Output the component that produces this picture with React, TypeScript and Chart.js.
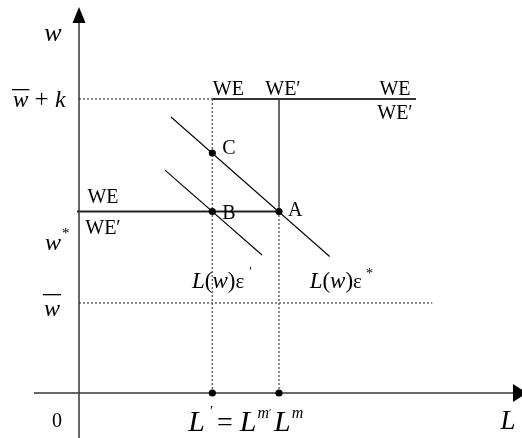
import React, { useEffect, useRef } from "react";
import { Chart, registerables } from "chart.js";

Chart.register(...registerables);

// Wage levels on the vertical axis
const wBar = 3.0;
const wStar = 6.05;
const wBarPlusK = 9.8;

// Employment levels on the horizontal axis
const lPrime = 20; // L′ = L^m′
const lM = 30; // L^m

// Labour demand schedules L(w)ε* and L(w)ε′, given by their end points
const demandStarL = [13.8, 37.6];
const demandStarW = [9.2, 4.55];
const demandPrimeL = [12.9, 27.45];
const demandPrimeW = [7.43, 4.6];

// Marked equilibria
const pointNames = ["A", "B", "C"];
const pointL = [lM, lPrime, lPrime];
const pointW = [wStar, wStar, 8.0];

// Reach of the wage-setting lines
const weTopEnd = 50.55;
const floorEnd = 53.0;
const weLowStart = -0.3;

// Axis extents
const xRange = [-11.85, 66.45];
const yRange = [-1.5, 13.1];
const xAxisFrom = -6.75;
const xAxisBase = 65.1;
const xAxisTip = 67.2;
const yAxisBase = 12.33;
const yAxisTip = 12.87;

const SERIF = '"Liberation Serif", "Times New Roman", serif';

type Pt = { x: number; y: number };
const seg = (ls: number[], ws: number[]): Pt[] => ls.map((l, i) => ({ x: l, y: ws[i] }));

type Part = { t: string; it?: boolean; size?: number; dy?: number; dx?: number; bar?: number };

function drawRich(ctx: CanvasRenderingContext2D, x: number, y: number, parts: Part[], base: number) {
  let cx = x;
  for (const p of parts) {
    cx += p.dx || 0;
    const size = p.size || base;
    ctx.font = `${p.it ? "italic " : ""}${size}px ${SERIF}`;
    ctx.fillText(p.t, cx, y + (p.dy || 0));
    const w = ctx.measureText(p.t).width;
    if (p.bar) ctx.fillRect(cx - 1, y - p.bar, w + 2, 1.3);
    cx += w;
  }
}

function text(ctx: CanvasRenderingContext2D, s: string, x: number, y: number, size: number, align: CanvasTextAlign = "left", italic = false) {
  ctx.font = `${italic ? "italic " : ""}${size}px ${SERIF}`;
  ctx.textAlign = align;
  ctx.fillText(s, x, y);
  ctx.textAlign = "left";
}

const overlay = {
  id: "overlay",
  afterDatasetsDraw(chart: any) {
    const ctx: CanvasRenderingContext2D = chart.ctx;
    const px = (v: number) => chart.scales.x.getPixelForValue(v);
    const py = (v: number) => chart.scales.y.getPixelForValue(v);
    const ox = px(0);
    const oy = py(0);
    ctx.save();
    ctx.fillStyle = "#000";

    // arrowheads
    const ty = py(yAxisTip);
    const by = py(yAxisBase);
    ctx.beginPath();
    ctx.moveTo(ox, ty);
    ctx.lineTo(ox - 6.5, by);
    ctx.lineTo(ox + 6.5, by);
    ctx.closePath();
    ctx.fill();
    const tx = px(xAxisTip);
    const bx = px(xAxisBase);
    ctx.beginPath();
    ctx.moveTo(tx, oy);
    ctx.lineTo(bx, oy - 9);
    ctx.lineTo(bx, oy + 9);
    ctx.closePath();
    ctx.fill();

    ctx.textBaseline = "alphabetic";

    // axis titles and origin
    text(ctx, "w", ox - 26, ty + 34, 26, "center", true);
    text(ctx, "0", ox - 22, oy + 34, 20, "center");
    text(ctx, "L", bx - 5, oy + 36, 27, "center", true);

    // wage levels
    drawRich(ctx, ox - 66, py(wBarPlusK) + 8, [
      { t: "w", it: true, bar: 18 },
      { t: " + ", size: 25 },
      { t: "k", it: true, size: 24 },
    ], 23);
    drawRich(ctx, ox - 34, py(wStar) + 38, [
      { t: "w", it: true },
      { t: "*", size: 15, dy: -12, dx: 1 },
    ], 24);
    drawRich(ctx, ox - 35, py(wBar) + 13, [{ t: "w", it: true, bar: 22 }], 24);

    // employment levels
    drawRich(ctx, px(lPrime) - 24, oy + 38, [
      { t: "L", it: true },
      { t: "′", size: 14, dy: -15, dx: 5 },
      { t: " = ", size: 28, dx: -3 },
      { t: "L", it: true },
      { t: "m", it: true, size: 16, dy: -13, dx: 1 },
      { t: "′", size: 11, dy: -15 },
      { t: " ", size: 10 },
      { t: "L", it: true },
      { t: "m", it: true, size: 16, dy: -13, dx: 1 },
    ], 30);

    // wage-setting curve labels
    const weSize = 20;
    text(ctx, "WE", px(lPrime) + 16, py(wBarPlusK) - 4, weSize, "center");
    text(ctx, "WE′", px(lM) + 4, py(wBarPlusK) - 4, weSize, "center");
    text(ctx, "WE", px(weTopEnd) - 21, py(wBarPlusK) - 4, weSize, "center");
    text(ctx, "WE′", px(weTopEnd) - 21, py(wBarPlusK) + 20, weSize, "center");
    text(ctx, "WE", ox + 24, py(wStar) - 9, weSize, "center");
    text(ctx, "WE′", ox + 24, py(wStar) + 22, weSize, "center");

    // equilibrium points
    const offs = [
      [9, 4],
      [10, 7],
      [10, 1],
    ];
    pointNames.forEach((n, i) => {
      text(ctx, n, px(pointL[i]) + offs[i][0], py(pointW[i]) + offs[i][1], 20);
    });

    // demand schedule labels
    const dy = py(demandPrimeW[1]) + 33;
    drawRich(ctx, px(demandPrimeL[1]) - 70, dy, [
      { t: "L", it: true },
      { t: "(" },
      { t: "w", it: true },
      { t: ")" },
      { t: "ε", size: 21 },
      { t: "′", size: 12, dy: -13, dx: 5 },
    ], 23);
    drawRich(ctx, px(demandStarL[1]) - 20, dy, [
      { t: "L", it: true },
      { t: "(" },
      { t: "w", it: true },
      { t: ")" },
      { t: "ε", size: 21 },
      { t: "*", size: 14, dy: -10, dx: 4 },
    ], 23);

    ctx.restore();
  },
};

export default function App() {
  const ref = useRef<HTMLCanvasElement | null>(null);

  useEffect(() => {
    if (!ref.current) return;
    const solid = (data: Pt[], color: string, width: number) => ({
      data,
      showLine: true,
      borderColor: color,
      borderWidth: width,
      pointRadius: 0,
      fill: false,
      tension: 0,
      order: 2,
    });
    const dotted = (data: Pt[]) => ({
      ...solid(data, "#666", 1.5),
      borderDash: [2, 2],
      order: 3,
    });

    const chart = new Chart(ref.current, {
      type: "scatter",
      data: {
        datasets: [
          {
            data: [
              ...seg(pointL, pointW),
              { x: lPrime, y: 0 },
              { x: lM, y: 0 },
            ],
            showLine: false,
            pointRadius: 3.6,
            pointBackgroundColor: "#000",
            pointBorderColor: "#000",
            borderWidth: 0,
            order: 0,
          } as any,
          // axes
          solid(seg([xAxisFrom, xAxisBase], [0, 0]), "#333", 1.5),
          solid(seg([0, 0], [yRange[0], yAxisBase]), "#333", 1.5),
          // wage-setting lines
          dotted(seg([0, lPrime], [wBarPlusK, wBarPlusK])),
          solid(seg([lPrime, weTopEnd], [wBarPlusK, wBarPlusK]), "#333", 2),
          solid(seg([lM, lM], [wStar, wBarPlusK]), "#444", 1.6),
          solid(seg([weLowStart, lM], [wStar, wStar]), "#222", 1.8),
          dotted(seg([0, floorEnd], [wBar, wBar])),
          // drop lines
          dotted(seg([lPrime, lPrime], [0, wBarPlusK])),
          dotted(seg([lM, lM], [0, wStar])),
          // demand schedules
          solid(seg(demandStarL, demandStarW), "#000", 1.1),
          solid(seg(demandPrimeL, demandPrimeW), "#000", 1.1),
        ],
      },
      options: {
        responsive: false,
        animation: false,
        layout: { padding: 0, autoPadding: false },
        plugins: {
          legend: { display: false },
          tooltip: { enabled: false },
        },
        scales: {
          x: { type: "linear", min: xRange[0], max: xRange[1], display: false },
          y: { type: "linear", min: yRange[0], max: yRange[1], display: false },
        },
      },
      plugins: [overlay],
    });
    return () => chart.destroy();
  }, []);

  return (
    <div style={{ position: "fixed", left: 0, top: 0, width: 522, height: 438, background: "#fff" }}>
      <canvas ref={ref} width={522} height={438} />
    </div>
  );
}
